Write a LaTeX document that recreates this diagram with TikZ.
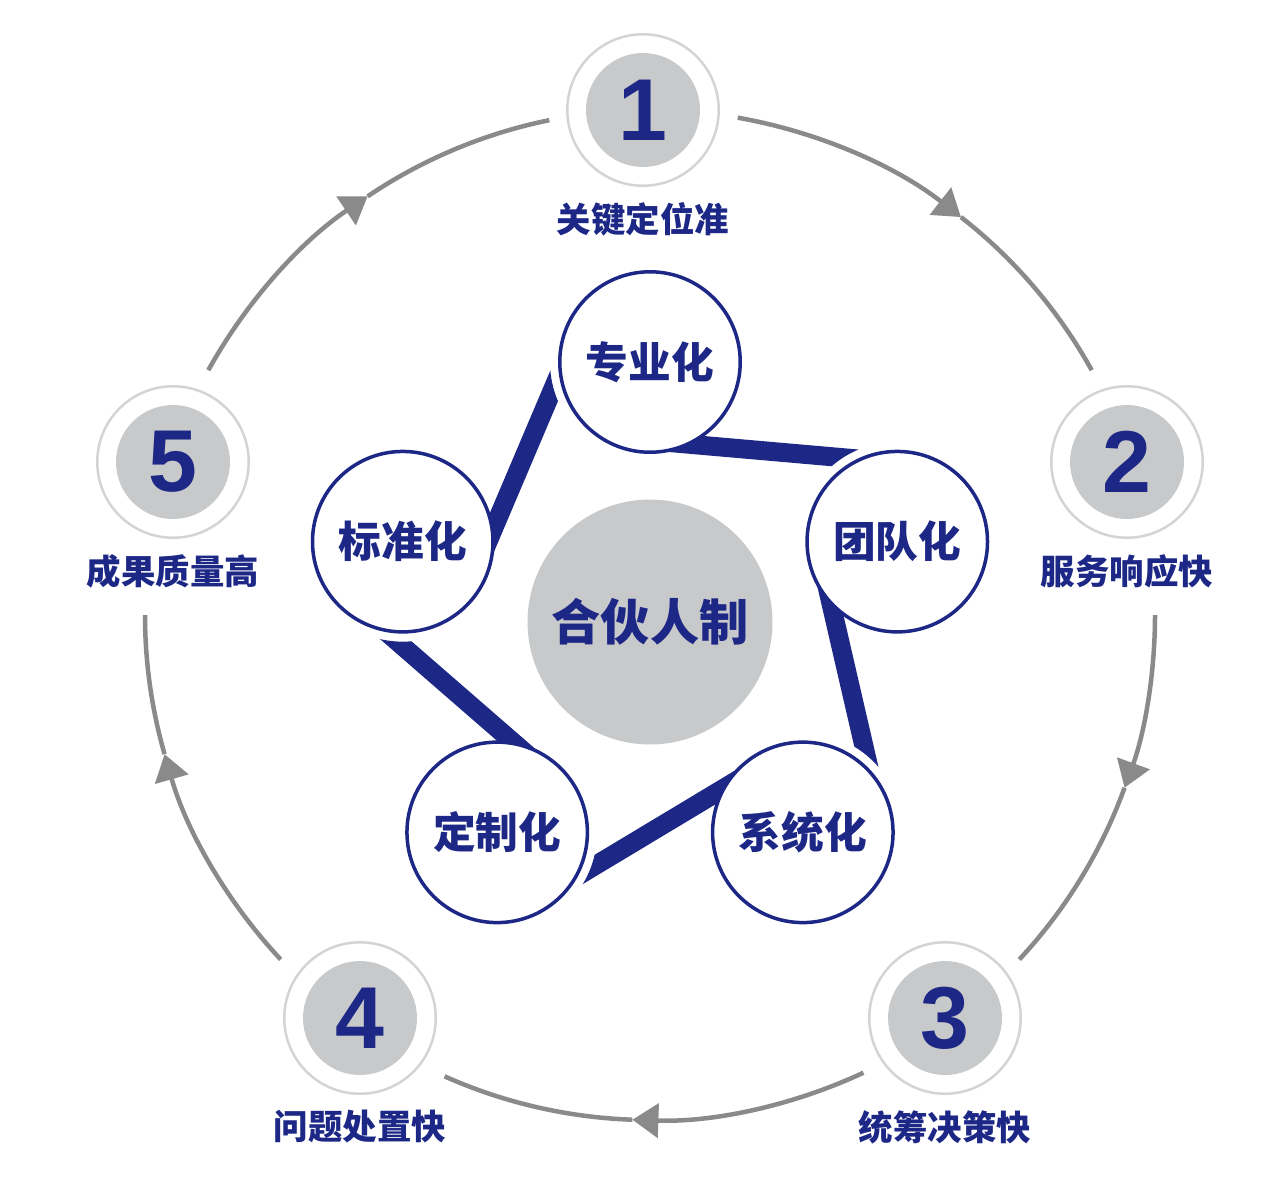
\documentclass[tikz,border=0pt]{standalone}
\usepackage{fontspec}
\setmainfont{Liberation Sans}
\newfontfamily\cjk{Noto Sans CJK SC}
\usetikzlibrary{arrows.meta,positioning,calc,backgrounds}

\definecolor{navy}{RGB}{28,39,134}
\definecolor{disk}{RGB}{200,201,202}
\definecolor{ringgray}{RGB}{138,138,138}
\definecolor{ringlight}{RGB}{212,212,212}

\begin{document}
\begin{tikzpicture}[x=0.02cm, y=0.02cm,
    core/.style={circle, fill=disk, minimum size=4.9cm, inner sep=0pt, text=navy, font=\cjk\bfseries\fontsize{28}{30}\selectfont},
    item/.style={circle, draw=navy, line width=0.07cm, fill=white, minimum size=3.61cm, inner sep=0pt, text=navy, font=\cjk\bfseries\fontsize{24.3}{26}\selectfont},
    stepring/.style={circle, draw=ringlight, line width=0.05cm, fill=white, minimum size=3.03cm, inner sep=0pt},
    stepdisk/.style={circle, fill=disk, minimum size=2.28cm, inner sep=0pt, text=navy, font=\bfseries\fontsize{50}{50}\selectfont},
    steplabel/.style={inner sep=0pt, text=navy, font=\cjk\bfseries\fontsize{19.6}{21}\selectfont},
    band/.style={navy, line width=0.38cm},
    ring/.style={ringgray, line width=0.09cm},
    tip/.style={-{Triangle[length=0.52cm, width=0.68cm]}}
]

\useasboundingbox (0,-1181) rectangle (1280,0);

% Centre of the outer cycle
\coordinate (oc) at (650,-615);

% Core and the five inner principles
\node[core] (core) at (650,-622) {合伙人制};
\node[item] (c1) at ($(core)+(90:260)$) {专业化};
\node[item] (c2) at ($(core)+(18:260)$) {团队化};
\node[item] (c3) at ($(core)+(-54:260)$) {系统化};
\node[item] (c4) at ($(core)+(-126:260)$) {定制化};
\node[item] (c5) at ($(core)+(162:260)$) {标准化};

% Bands linking the inner circles, cut short by a white gap at the next one
\begin{scope}[on background layer]
\foreach \a/\b/\d in {c1/c2/-5, c2/c3/-77, c3/c4/-149, c4/c5/-221, c5/c1/-293} {
    \begin{scope}[even odd rule]
        \clip (0,-1181) rectangle (1280,0) (\b) circle[radius=100];
        \draw[band] ($(\a)+(\d-90:78.5)$) -- ++(\d:262);
    \end{scope}
}
\end{scope}

% Outer steps
\node[stepring] (s1) at (643,-110) {};
\node[stepdisk] (n1) at (s1) {1};
\node[steplabel, below=0.3cm of s1] (l1) {关键定位准};

\node[stepring] (s2) at (1127,-462) {};
\node[stepdisk] (n2) at (s2) {2};
\node[steplabel, below=0.3cm of s2] (l2) {服务响应快};

\node[stepring] (s3) at (945,-1018) {};
\node[stepdisk] (n3) at (s3) {3};
\node[steplabel, below=0.3cm of s3] (l3) {统筹决策快};

\node[stepring] (s4) at (360,-1018) {};
\node[stepdisk] (n4) at (s4) {4};
\node[steplabel, below=0.3cm of s4] (l4) {问题处置快};

\node[stepring] (s5) at (173,-462) {};
\node[stepdisk] (n5) at (s5) {5};
\node[steplabel, below=0.3cm of s5] (l5) {成果质量高};

% Outer cycle arcs with arrow heads half way
\foreach \a/\m/\b in {80/52/29, 0/-20/-43, -65/-92/-114, -137/-164/-180, 151/124/101.5} {
    \draw[ring, tip] ($(oc)+(\a:505)$) arc[start angle=\a, end angle=\m, radius=505];
    \draw[ring] ($(oc)+(\m:505)$) arc[start angle=\m, end angle=\b, radius=505];
}

\end{tikzpicture}
\end{document}
